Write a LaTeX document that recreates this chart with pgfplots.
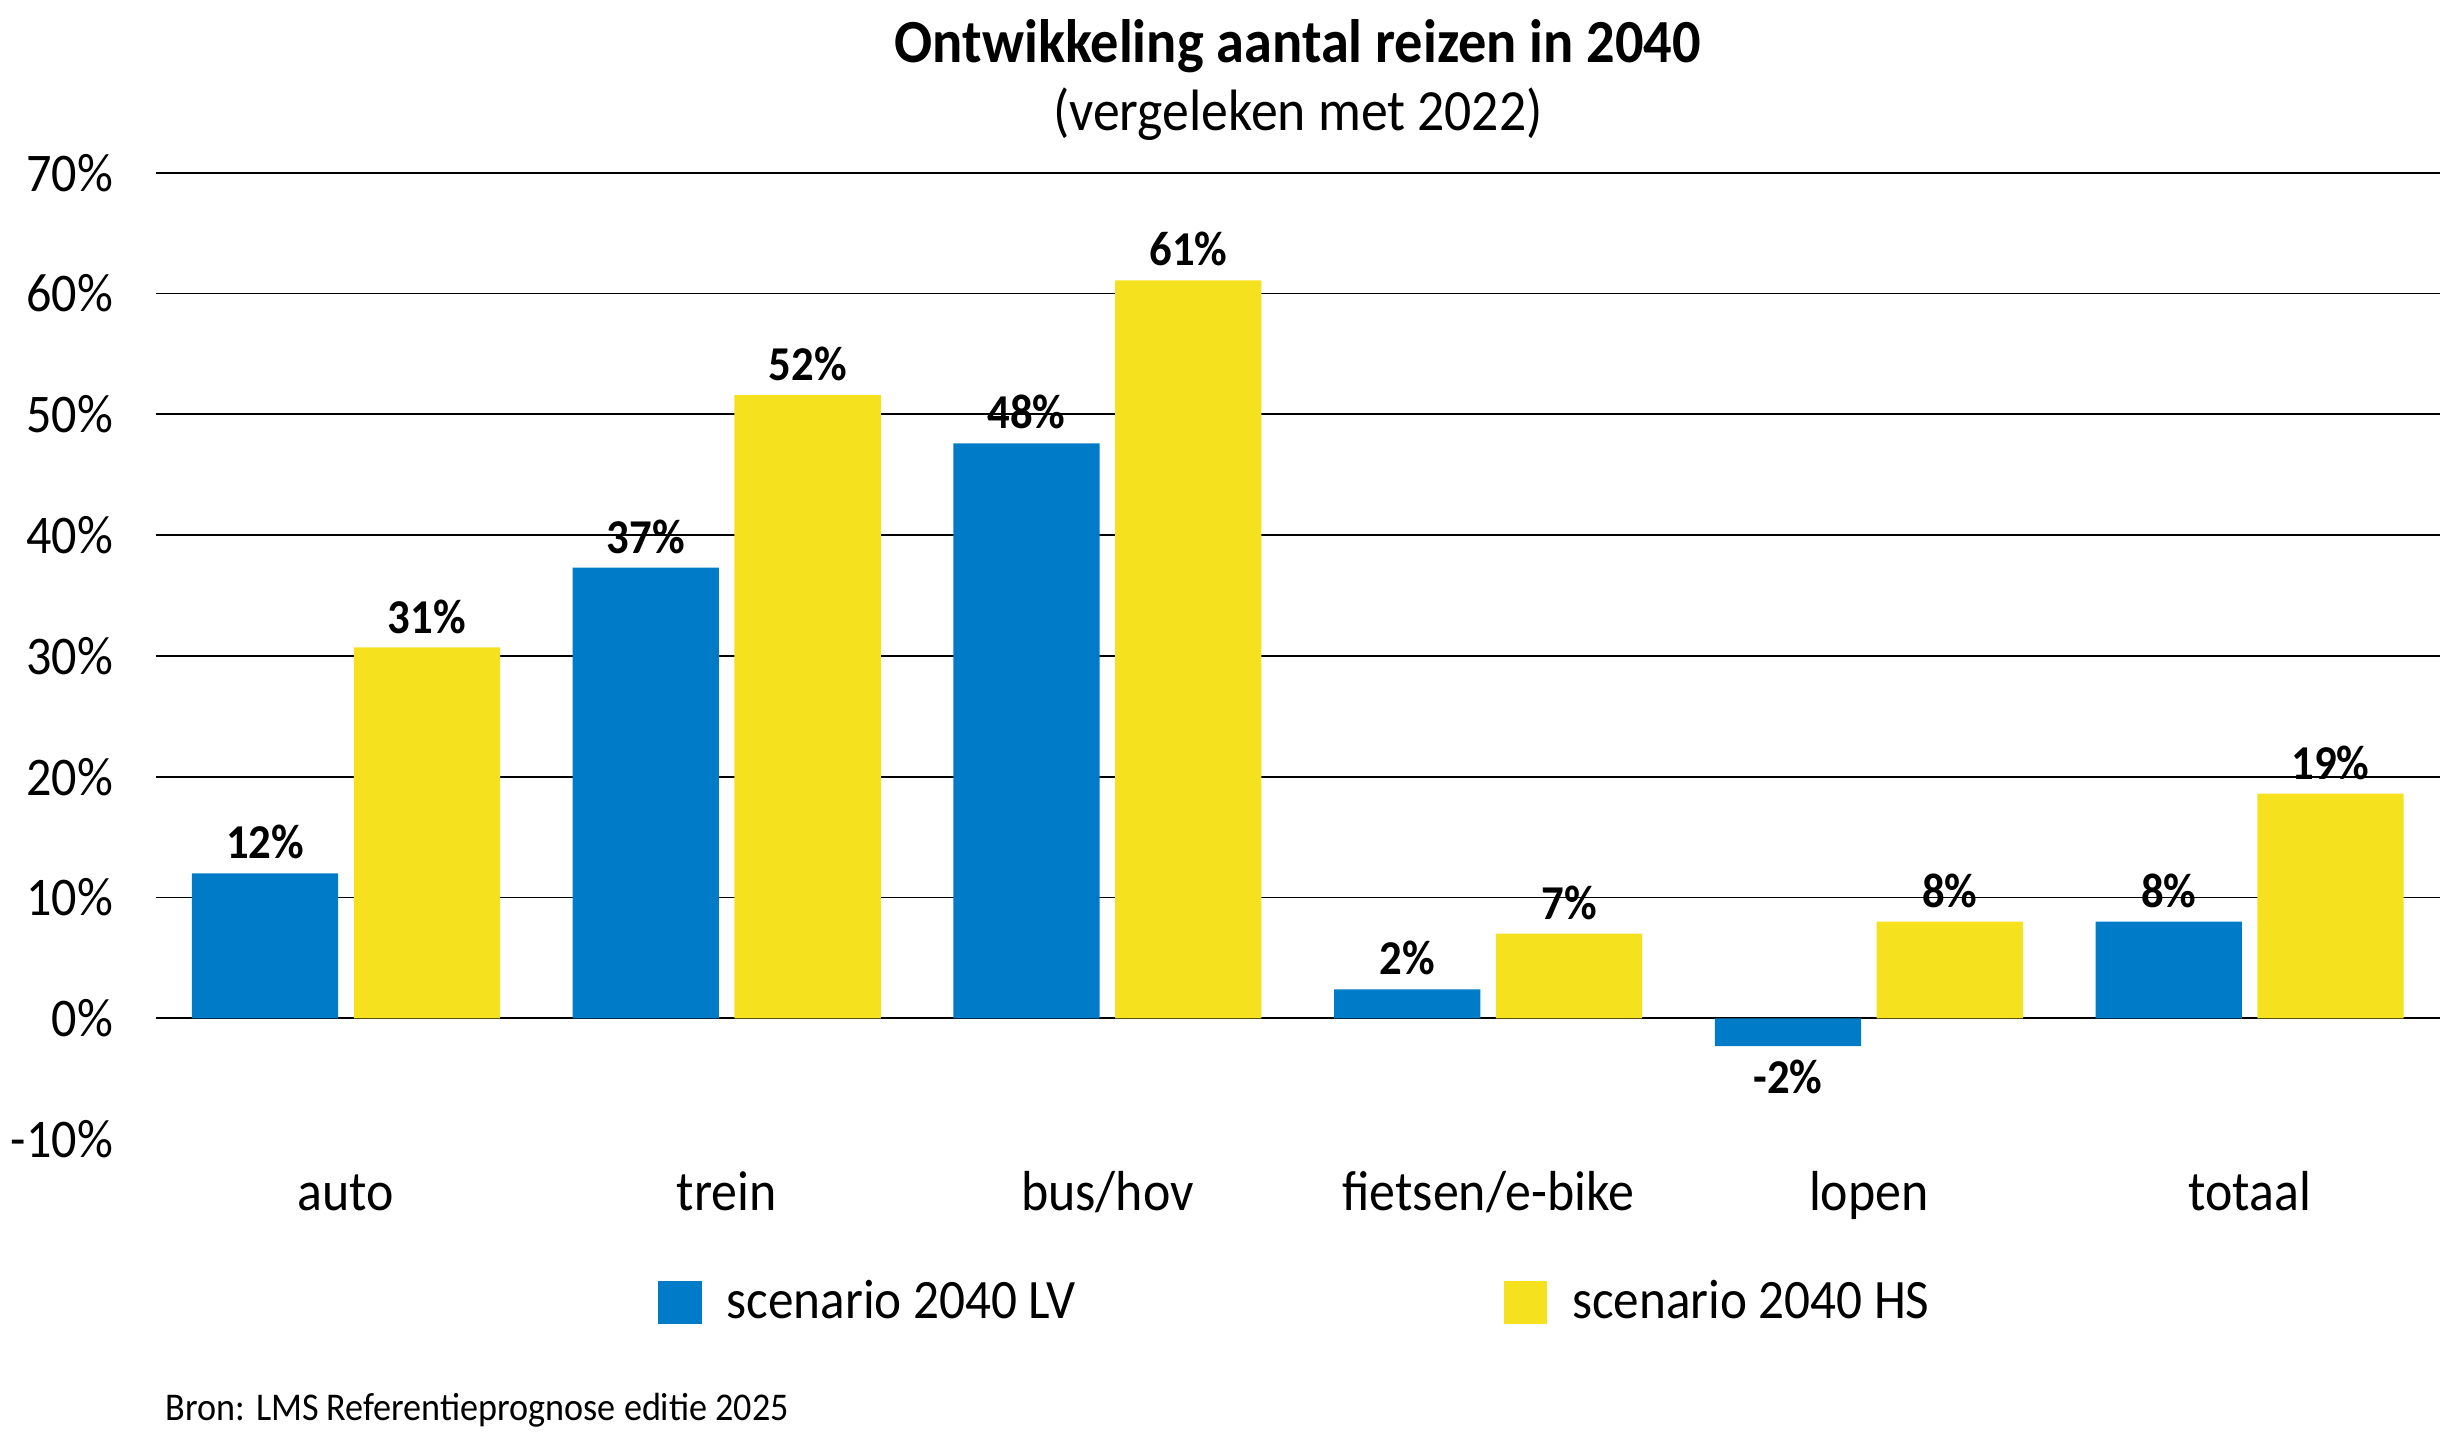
\documentclass[border=0pt]{standalone}
\usepackage{fontspec}
\setmainfont{Carlito}[FakeStretch=0.92]
\usepackage{pgfplots}
\usepackage{pgfplotstable}
\pgfplotsset{compat=1.18}
\definecolor{lvblue}{HTML}{007BC7}
\definecolor{hsyellow}{HTML}{F5E11E}

\pgfplotstableread{
x lv hs
0 12.0 30.7
1 37.3 51.6
2 47.6 61.1
3 2.4 7.0
4 -2.3 8.0
5 8.0 18.6
}\reizen

\begin{document}
\begin{tikzpicture}
\useasboundingbox (-40pt,-76.8pt) rectangle (587.2pt,292.8pt);
\begin{axis}[
    scale only axis,
    width=587.2pt, height=248.4pt,
    xmin=-0.5, xmax=5.5,
    ymin=-10, ymax=70,
    clip=false,
    ybar=4pt, bar width=37.6pt,
    axis line style={draw=none},
    major tick length=0pt,
    xtick={0,...,5},
    xticklabels={auto,trein,bus/hov,fietsen/e-bike,lopen,totaal},
    xticklabel style={font=\fontsize{14.5}{16}\selectfont, anchor=base, yshift=-18.4pt},
    ytick={0,10,...,70},
    yticklabels={0\%,10\%,20\%,30\%,40\%,50\%,60\%,70\%},
    extra y ticks={-10},
    extra y tick labels={-10\%},
    extra y tick style={grid=none},
    yticklabel style={font=\fontsize{14}{16}\selectfont, anchor=east, inner sep=0pt, xshift=-10.8pt},
    ymajorgrids,
    grid style={black, line width=0.45pt},
    point meta=y,
    nodes near coords={\pgfmathprintnumber[fixed, precision=0, assume math mode=true]{\pgfplotspointmeta}\%},
    nodes near coords align={vertical},
    every node near coord/.append style={font=\bfseries\fontsize{12.5}{14}\selectfont, inner xsep=0pt, inner ysep=3.4pt},
    legend columns=2,
    legend style={draw=none, fill=none, at={(0.5,0)}, anchor=center, yshift=-42pt,
        font=\fontsize{14.3}{17}\selectfont,
        /tikz/every even column/.append style={column sep=108pt}},
    legend image code/.code={\path[#1] (0pt,-5.6pt) rectangle (11.2pt,5.6pt);
        \path (15.6pt,0pt);},
]
\addplot[fill=lvblue, draw=none] table[x=x, y=lv] {\reizen};
\addlegendentry{scenario 2040 LV}
\addplot[fill=hsyellow, draw=none] table[x=x, y=hs] {\reizen};
\addlegendentry{scenario 2040 HS}

\node[anchor=base, font=\bfseries\fontsize{15.75}{18}\selectfont] at ([yshift=28.4pt]rel axis cs:0.5,1) {Ontwikkeling aantal reizen in 2040};
\node[anchor=base, font=\fontsize{15}{17}\selectfont] at ([yshift=10.8pt]rel axis cs:0.5,1) {(vergeleken met 2022)};
\node[anchor=base west, inner sep=0pt, font=\fontsize{10.1}{12}\selectfont] at ([xshift=2.4pt, yshift=-72.4pt]rel axis cs:0,0) {Bron: LMS Referentieprognose editie 2025};
\end{axis}
\end{tikzpicture}
\end{document}
